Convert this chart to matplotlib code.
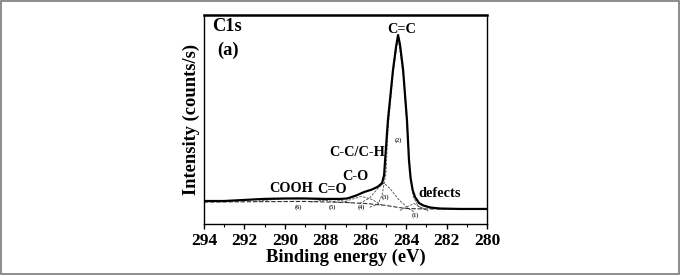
import matplotlib
matplotlib.use("Agg")
import matplotlib.pyplot as plt
from matplotlib.patches import Rectangle

plt.rcParams["font.family"] = ["Liberation Serif", "DejaVu Serif"]
plt.rcParams["font.weight"] = "bold"

# C1s envelope (binding energy in eV, intensity in arbitrary units)
env_be = [294.00, 293.01, 292.02, 291.03, 290.04, 289.00, 288.01, 287.27, 286.92,
          286.48, 286.08, 285.69, 285.39, 285.19, 285.09, 285.04, 284.90, 284.65,
          284.50, 284.40, 284.30, 284.15, 283.96, 283.86, 283.78, 283.68, 283.56,
          283.36, 283.16, 282.82, 282.32, 281.33, 280.00]
env_int = [11.0, 11.0, 11.5, 12.0, 12.2, 12.2, 12.0, 12.0, 12.2,
           13.6, 15.3, 16.5, 17.9, 19.6, 23.4, 30.6, 49.8, 73.7,
           84.7, 90.4, 85.6, 73.7, 49.8, 30.6, 22.0, 16.3, 12.9,
           10.0, 8.9, 7.9, 7.4, 7.2, 7.2]

# background
bg_be = [294.0, 291.0, 289.0, 287.0, 286.0, 285.0, 284.5, 284.0, 283.0, 280.0]
bg_int = [10.5, 10.7, 10.8, 10.3, 9.8, 8.9, 8.1, 7.4, 7.2, 7.2]

# fitted components (1)-(6)
c1_be = [284.3, 283.9, 283.6, 283.3, 282.9]
c1_int = [6.5, 8.5, 9.8, 8.0, 6.2]
c2_be = [285.8, 285.4, 285.2, 285.0, 284.9, 284.65, 284.4, 284.15, 283.95, 283.82,
         283.65, 283.4, 283.0]
c2_int = [8.0, 9.5, 13.5, 24.0, 45.0, 72.0, 89.5, 72.0, 46.0, 26.0, 13.0, 8.5, 6.8]
c3_be = [286.3, 285.8, 285.4, 285.1, 284.8, 284.4, 283.9, 283.6]
c3_int = [9.8, 12.5, 17.0, 19.6, 17.0, 12.0, 7.5, 5.8]
c4_be = [287.2, 286.7, 286.2, 285.7, 285.2]
c4_int = [10.2, 11.8, 13.2, 11.8, 9.0]
c5_be = [288.7, 288.2, 287.7, 287.2, 286.7]
c5_int = [10.5, 11.3, 11.8, 11.2, 10.0]
c6_be = [291.5, 290.5, 289.3, 288.2, 287.3]
c6_int = [10.7, 11.8, 12.5, 11.6, 10.4]

components = [(c1_be, c1_int), (c2_be, c2_int), (c3_be, c3_int),
              (c4_be, c4_int), (c5_be, c5_int), (c6_be, c6_int)]

xticks = [294, 292, 290, 288, 286, 284, 282, 280]

fig = plt.figure(figsize=(6.97, 2.76), dpi=100)
fig.add_artist(Rectangle((1 / 697, 2 / 276), 678 / 697, 273 / 276,
                         transform=fig.transFigure, fill=False,
                         edgecolor="#7a7a7a", lw=1.2))
ax = fig.add_axes([204 / 697, 52 / 276, 283 / 697, 209 / 276])

for be, it in components:
    ax.plot(be, it, color="#4a4a4a", lw=0.6, ls=(0, (3, 1.5)))
ax.plot(bg_be, bg_int, color="#333333", lw=0.8, ls=(0, (4, 1.5)))
ax.plot(env_be, env_int, color="black", lw=1.6)

ax.set_xlim(294, 280)
ax.set_ylim(0, 100)
ax.set_xticks(xticks)
ax.set_xticks(range(280, 295), minor=True)
ax.set_yticks([])
ax.tick_params(axis="x", which="major", direction="out", length=3.5, width=1,
               labelsize=12.5, pad=3)
ax.tick_params(axis="x", which="minor", direction="out", length=2.5, width=0.8)
for lab in ax.get_xticklabels():
    lab.set_fontweight("bold")
for s in ax.spines.values():
    s.set_linewidth(1.0)
ax.spines["top"].set_linewidth(1.8)

ax.set_xlabel("Binding energy (eV)", fontsize=13.3, fontweight="bold", labelpad=0)
ax.set_ylabel("Intensity (counts/s)", fontsize=13.3, fontweight="bold", labelpad=3)

ax.text(293.6, 94.3, "C1s", fontsize=13.3, fontweight="bold", ha="left", va="center")
ax.text(293.36, 83.3, "(a)", fontsize=13.3, fontweight="bold", ha="left", va="center")

peak_labels = [("C=C", 284.2, 93.3), ("C-C/C-H", 286.43, 34.0), ("C-O", 286.53, 22.5),
               ("C=O", 287.67, 16.7), ("COOH", 289.70, 17.2), ("defects", 282.32, 14.8)]
for txt, x, y in peak_labels:
    ax.text(x, y, txt, fontsize=10.3, fontweight="bold", ha="center", va="center")

comp_labels = [("(1)", 283.56, 4.3), ("(2)", 284.40, 40.2), ("(3)", 285.04, 12.9),
               ("(4)", 286.23, 8.1), ("(5)", 287.67, 8.1), ("(6)", 289.35, 8.1)]
for txt, x, y in comp_labels:
    ax.text(x, y, txt, fontsize=4.5, color="#333344", ha="center", va="center")

fig.savefig("out.png", dpi=100)
